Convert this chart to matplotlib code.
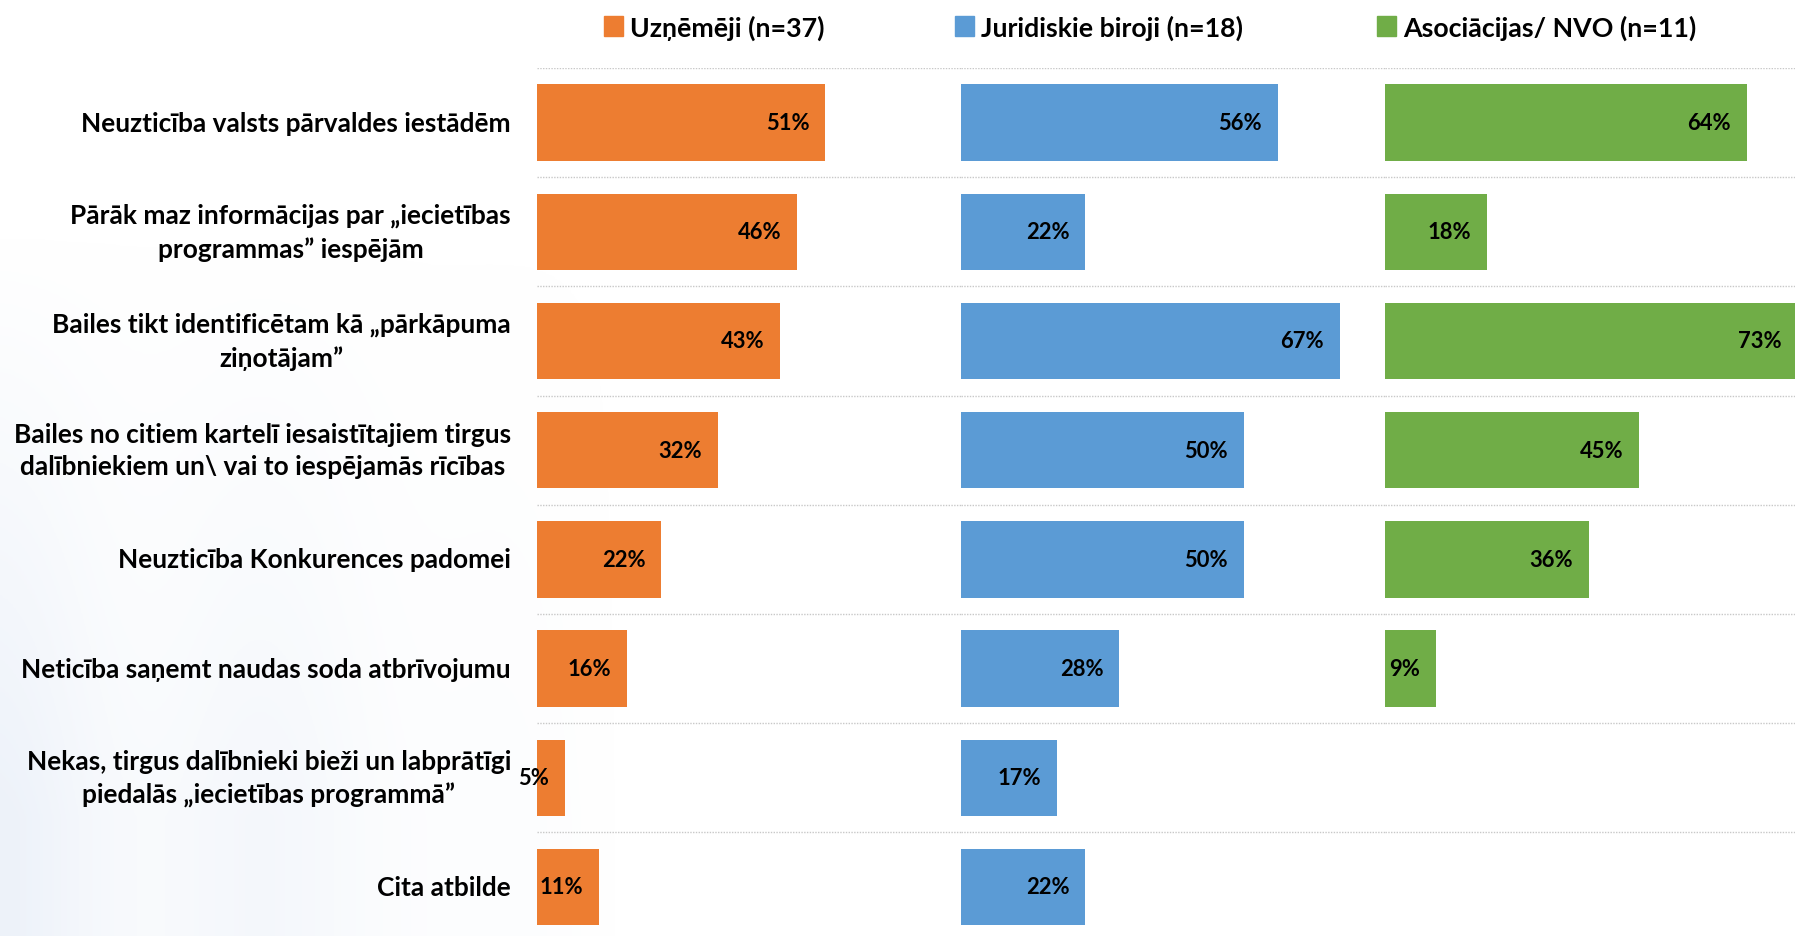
import numpy as np
import matplotlib.pyplot as plt
from matplotlib.patches import Patch

plt.rcParams['font.family'] = ['Lato', 'DejaVu Sans']
plt.rcParams['font.weight'] = 'bold'

categories = [
    'Neuzticība valsts pārvaldes iestādēm',
    'Pārāk maz informācijas par „iecietības\nprogrammas” iespējām',
    'Bailes tikt identificētam kā „pārkāpuma\nziņotājam”',
    'Bailes no citiem kartelī iesaistītajiem tirgus\ndalībniekiem un\\ vai to iespējamās rīcības',
    'Neuzticība Konkurences padomei',
    'Neticība saņemt naudas soda atbrīvojumu',
    'Nekas, tirgus dalībnieki bieži un labprātīgi\npiedalās „iecietības programmā”',
    'Cita atbilde',
]

groups = ['Uzņēmēji (n=37)', 'Juridiskie biroji (n=18)', 'Asociācijas/ NVO (n=11)']
uznemeji = [51, 46, 43, 32, 22, 16, 5, 11]
biroji = [56, 22, 67, 50, 50, 28, 17, 22]
nvo = [64, 18, 73, 45, 36, 9, None, None]
series = [uznemeji, biroji, nvo]
colors = ['#ED7D31', '#5B9BD5', '#70AD47']

W, H = 1795, 937
fig = plt.figure(figsize=(W / 100, H / 100), dpi=100)

# faint slide background on the left
bg = fig.add_axes([0, 0, 0.45, 1], zorder=-10)
xx = np.linspace(0, 1, 300)
yy = np.linspace(0, 1, 200)
X, Y = np.meshgrid(xx, yy)
shade = np.clip(1 - X * 1.3, 0, 1) * np.clip(1.2 - Y * 1.6, 0, 1)
shade *= 0.75 + 0.25 * np.cos(X * 18)
img = np.ones((200, 300, 4))
img[..., 0] = 0.86
img[..., 1] = 0.90
img[..., 2] = 0.96
img[..., 3] = shade * 0.5
bg.imshow(img, extent=[0, 1, 0, 1], aspect='auto', origin='lower')
bg.axis('off')

x0 = 537
panel_w = 424
top = 69
row_h = 109.2
n = len(categories)
ax_h = row_h * n
y_pos = np.arange(n)
legend_x = [604 - 537, 955 - 961, 1377 - 1385]

for i, (vals, col, name) in enumerate(zip(series, colors, groups)):
    left = x0 + i * panel_w
    ax = fig.add_axes([left / W, (H - top - ax_h) / H, panel_w / W, ax_h / H])
    ys = [y for y, v in zip(y_pos, vals) if v is not None]
    vs = [v for v in vals if v is not None]
    ax.barh(ys, vs, height=0.70, color=col, zorder=2)
    for y, v in zip(ys, vs):
        ax.annotate(f'{v}%', xy=(v, y), xytext=(-11.5, 0), textcoords='offset points',
                    ha='right', va='center', fontsize=15.8, fontweight='bold', color='black',
                    zorder=3)
    ax.set_xlim(0, 75)
    ax.set_ylim(n - 0.5, -0.5)
    for g in np.arange(-0.5, n, 1.0):
        ax.axhline(g, color='#c8c8c8', lw=1.0, ls=(0, (1, 1)), zorder=1)
    ax.set_xticks([])
    ax.set_yticks([])
    for s in ax.spines.values():
        s.set_visible(False)
    ax.patch.set_alpha(0)
    leg = ax.legend(handles=[Patch(color=col, label=name)], loc='center left',
                    bbox_to_anchor=(legend_x[i] / panel_w, 1 + (top - 28) / ax_h),
                    frameon=False, borderpad=0, borderaxespad=0, handlelength=0.72,
                    handleheight=0.72, handletextpad=0.25,
                    prop={'size': 19.3, 'weight': 'bold'})
    if i == 0:
        for y, lbl in zip(y_pos, categories):
            ax.annotate(lbl, xy=(0, y), xytext=(-26 * 0.72, 0), textcoords='offset points',
                        ha='right', va='center', multialignment='center', fontsize=18.9,
                        fontweight='bold', color='black', linespacing=1.42,
                        annotation_clip=False)

fig.savefig('out.png', dpi=100)
